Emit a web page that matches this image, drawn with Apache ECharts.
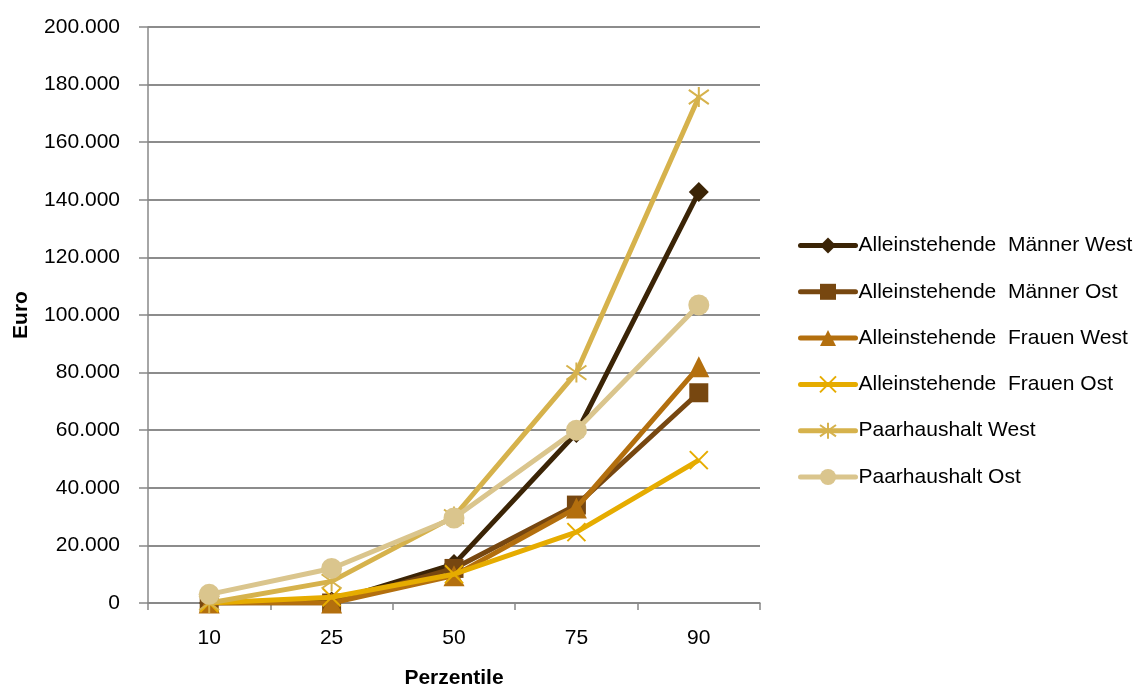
<!DOCTYPE html>
<html><head><meta charset="utf-8">
<script src="https://cdn.jsdelivr.net/npm/echarts@6/dist/echarts.min.js"></script>
<style>html,body{margin:0;padding:0;background:#fff}#c{width:1138px;height:687px}</style>
</head><body><div id="c"></div>
<script>
const categories = ['10', '25', '50', '75', '90'];
const seriesNames = ['Alleinstehende  Männer West', 'Alleinstehende  Männer Ost', 'Alleinstehende  Frauen West', 'Alleinstehende  Frauen Ost', 'Paarhaushalt West', 'Paarhaushalt Ost'];
const maennerWest = [0, 500, 13500, 59000, 142700];
const maennerOst = [0, 0, 12000, 34000, 73000];
const frauenWest = [0, 0, 9500, 33000, 82000];
const frauenOst = [0, 2000, 10000, 24600, 49600];
const paarWest = [0, 7500, 30000, 80000, 175700];
const paarOst = [3000, 12000, 29500, 60000, 103500];
const colors = ['#3B2406', '#774710', '#B36F0E', '#E6AC00', '#D6B24C', '#DAC58D'];
const xPath = 'path://M0,0L10,10M10,0L0,10';
const starPath = 'path://M0,0L10,10M10,0L0,10M5,-2L5,12';
const symbols = ['diamond', 'rect', 'triangle', xPath, starPath, 'circle'];
const sizes = [20, 19, 21, 18, 20, 21];
const data = [maennerWest, maennerOst, frauenWest, frauenOst, paarWest, paarOst];
const font = '"Liberation Sans", Arial, sans-serif';
const chart = echarts.init(document.getElementById('c'), null, {renderer: 'canvas'});
chart.setOption({
  animation: false,
  color: colors,
  grid: {left: 148, right: 378, top: 27, bottom: 84, outerBoundsMode: 'none', containLabel: false},
  legend: {
    orient: 'vertical', left: 793, top: 230, itemGap: 25.3, itemWidth: 55, itemHeight: 20,
    lineStyle: {width: 5, cap: 'round'},
    textStyle: {fontFamily: font, fontSize: 21, color: '#000', padding: [0, 0, 0, -2]},
    data: seriesNames
  },
  xAxis: {
    type: 'category', data: categories, boundaryGap: true,
    name: 'Perzentile', nameLocation: 'middle', nameGap: 65,
    nameTextStyle: {fontFamily: font, fontSize: 21, fontWeight: 'bold', color: '#000'},
    axisLine: {lineStyle: {color: '#888', width: 1.5}},
    axisTick: {show: true, length: 7, inside: false, lineStyle: {color: '#888', width: 1.5}},
    axisLabel: {fontFamily: font, fontSize: 21, color: '#000', margin: 25}
  },
  yAxis: {
    type: 'value', min: 0, max: 200000, interval: 20000,
    name: 'Euro', nameLocation: 'middle', nameGap: 116, nameRotate: 90,
    nameTextStyle: {fontFamily: font, fontSize: 21, fontWeight: 'bold', color: '#000'},
    axisLine: {show: true, lineStyle: {color: '#888', width: 1.5}},
    axisTick: {show: true, length: 9, lineStyle: {color: '#888', width: 1.5}},
    splitLine: {lineStyle: {color: '#8c8c8c', width: 1.8}},
    axisLabel: {fontFamily: font, fontSize: 21, color: '#000', margin: 28,
      formatter: v => v === 0 ? '0' : (v / 1000).toFixed(0) + '.000'}
  },
  series: data.map((d, i) => ({
    name: seriesNames[i], type: 'line', data: d,
    symbol: symbols[i], symbolSize: sizes[i], showSymbol: true,
    lineStyle: {width: 5, color: colors[i]},
    itemStyle: {color: colors[i], borderColor: colors[i], borderWidth: (i === 3 || i === 4) ? 2 : 0},
    z: 2 + i
  }))
});
</script></body></html>
